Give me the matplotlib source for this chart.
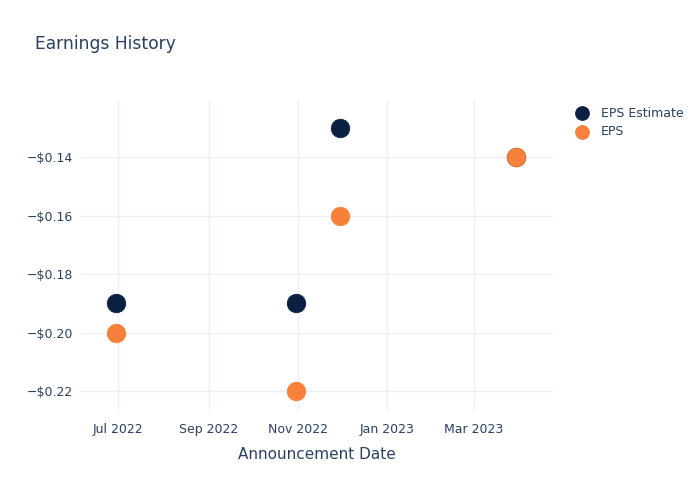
import matplotlib.pyplot as plt
import matplotlib.dates as mdates
import matplotlib.ticker as mticker
import numpy as np
from datetime import datetime

# Données
dates = ["2022-06-30", "2022-10-31", "2022-11-30", "2023-03-30"]
eps_estimate = [-0.19, -0.19, -0.13, -0.14]
eps_actual = [-0.20, -0.22, -0.16, -0.14]

x = [datetime.strptime(d, "%Y-%m-%d") for d in dates]

text_col = "#2a3f5f"
grid_col = "#ebf0f8"
navy = "#0b1f41"
orange = "#f7803a"

plt.rcParams.update({
    "font.family": "DejaVu Sans",
    "font.size": 9,
})

fig = plt.figure(figsize=(7, 5), dpi=100)
ax = fig.add_axes([81 / 700, 90 / 500, (553 - 81) / 700, 310 / 500])

ax.scatter(x, eps_estimate, s=180, color=navy, edgecolors=navy, linewidths=0.5,
           label="EPS Estimate", zorder=3)
ax.scatter(x, eps_actual, s=180, color=orange, edgecolors=orange, linewidths=0.5,
           label="EPS", zorder=3)

ax.set_xlim(datetime(2022, 6, 6), datetime(2023, 4, 24))
ax.set_ylim(-0.2265, -0.1205)

ax.xaxis.set_major_locator(mdates.MonthLocator(bymonth=[1, 3, 5, 7, 9, 11]))
ax.xaxis.set_major_formatter(mdates.DateFormatter("%b %Y"))
ax.set_yticks([-0.22, -0.20, -0.18, -0.16, -0.14])
ax.yaxis.set_major_formatter(mticker.FuncFormatter(
    lambda v, p: ("\u2212" if v < 0 else "") + f"${abs(v):.2f}"))

ax.grid(True, color=grid_col, linewidth=1)
ax.set_axisbelow(True)
for s in ax.spines.values():
    s.set_visible(False)
ax.tick_params(length=0, colors=text_col, labelsize=9, pad=6)
ax.tick_params(axis="x", pad=9.5)

ax.set_xlabel("Announcement Date", color=text_col, fontsize=11, labelpad=8)

fig.text(35 / 700, 1 - 44 / 500, "Earnings History", color=text_col, fontsize=12.3,
         va="center", ha="left")

ax.legend(loc="upper left", bbox_to_anchor=(1.025, 0.995), frameon=False,
          labelcolor=text_col, fontsize=9, handletextpad=0.5, borderaxespad=0,
          markerscale=0.75, labelspacing=0.45)

fig.savefig("out.png", dpi=100)
